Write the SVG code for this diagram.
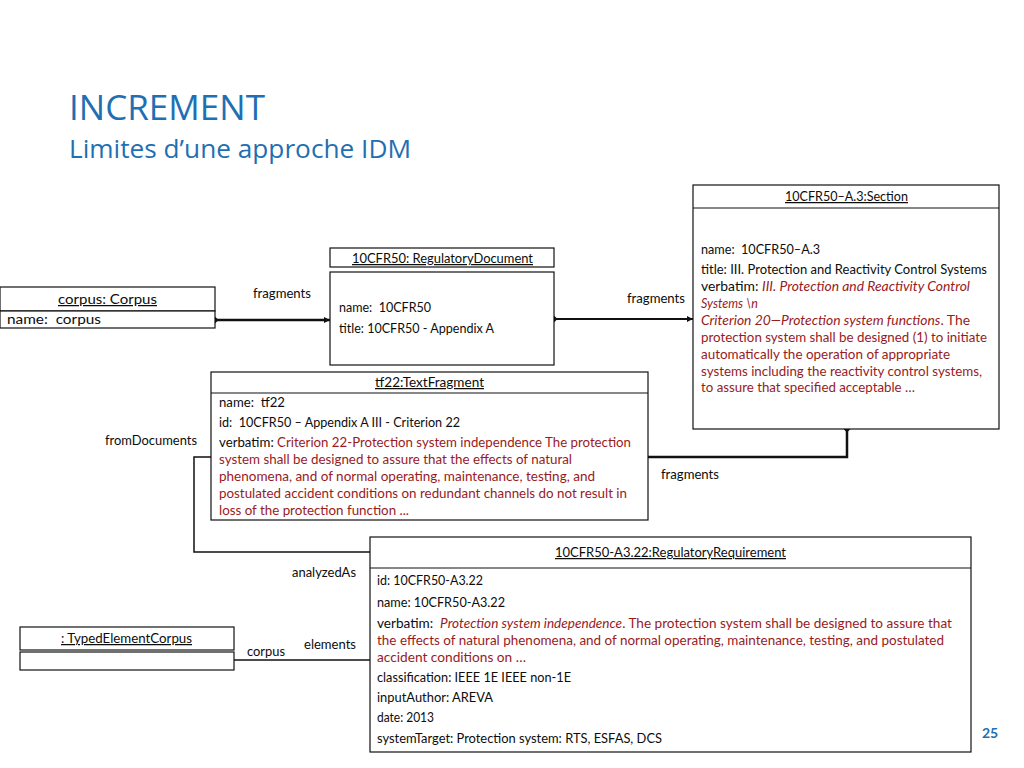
<svg xmlns="http://www.w3.org/2000/svg" width="1024" height="768" viewBox="0 0 1024 768">
<style>
.t{font-family:Lato,"Open Sans","Liberation Sans",sans-serif;font-size:12.5px;fill:#0d0d0d;white-space:pre}
.h{text-decoration:underline}
.r{fill:#981b1e}
.i{font-style:italic}
.box{fill:#fff;stroke:#111;stroke-width:1.2}
.c{fill:none;stroke:#111}
.title{font-family:"Open Sans",Lato,"Liberation Sans",sans-serif;fill:#1f6fb2}
</style>
<defs>
<marker id="dia" viewBox="0 0 10 10" refX="5" refY="5" markerWidth="7" markerHeight="7" markerUnits="userSpaceOnUse" orient="auto"><path d="M0,5 L5,0 L10,5 L5,10 Z" fill="#111"/></marker>
<marker id="arr" viewBox="0 0 10 10" refX="10" refY="5" markerWidth="6" markerHeight="6" markerUnits="userSpaceOnUse" orient="auto"><path d="M0,0 L10,5 L0,10 Z" fill="#111"/></marker>
</defs>
<rect width="1024" height="768" fill="#fff"/>
<text class="title" x="69" y="120" font-size="34" textLength="196" lengthAdjust="spacingAndGlyphs">INCREMENT</text>
<text class="title" x="69" y="158" font-size="25" textLength="342" lengthAdjust="spacingAndGlyphs">Limites d’une approche IDM</text>

<g id="connectors">
<path class="c" d="M215,320 H330" stroke-width="2.5" marker-start="url(#dia)" marker-end="url(#arr)"/>
<path class="c" d="M554,319 H693" stroke-width="2.2" marker-start="url(#dia)" marker-end="url(#arr)"/>
<path class="c" d="M847,429 V457 H648" stroke-width="2.5" marker-start="url(#dia)"/>
<path class="c" d="M211,457 H194 V552 H370" stroke-width="1.5"/>
<path class="c" d="M234,660 H370" stroke-width="1.5"/>
<text class="t" x="253" y="298" textLength="58" lengthAdjust="spacingAndGlyphs">fragments</text>
<text class="t" x="627" y="303" textLength="58" lengthAdjust="spacingAndGlyphs">fragments</text>
<text class="t" x="661" y="479" textLength="58" lengthAdjust="spacingAndGlyphs">fragments</text>
<text class="t" x="105" y="445" textLength="92" lengthAdjust="spacingAndGlyphs">fromDocuments</text>
<text class="t" x="292" y="577" textLength="64" lengthAdjust="spacingAndGlyphs">analyzedAs</text>
<text class="t" x="247" y="656" textLength="38" lengthAdjust="spacingAndGlyphs">corpus</text>
<text class="t" x="304" y="649" textLength="52" lengthAdjust="spacingAndGlyphs">elements</text>
</g>

<g id="corpus">
<rect class="box" x="0" y="287" width="215" height="24"/>
<rect class="box" x="0" y="311" width="215" height="17"/>
<text class="t h" x="58" y="304" textLength="99" lengthAdjust="spacingAndGlyphs">corpus: Corpus</text>
<text class="t" x="7" y="324" textLength="94" lengthAdjust="spacingAndGlyphs" xml:space="preserve">name:  corpus</text>
</g>

<g id="regdoc">
<rect class="box" x="330" y="248" width="224" height="19"/>
<rect class="box" x="330" y="272" width="224" height="93"/>
<text class="t h" x="352" y="263" textLength="181" lengthAdjust="spacingAndGlyphs">10CFR50: RegulatoryDocument</text>
<text class="t" x="339" y="312" textLength="92" lengthAdjust="spacingAndGlyphs" xml:space="preserve">name:  10CFR50</text>
<text class="t" x="339" y="333" textLength="155" lengthAdjust="spacingAndGlyphs">title: 10CFR50 - Appendix A</text>
</g>

<g id="section">
<rect class="box" x="693" y="185" width="306" height="244"/>
<line class="c" x1="693" y1="208" x2="999" y2="208" stroke-width="1.2"/>
<text class="t h" x="785" y="201" textLength="123" lengthAdjust="spacingAndGlyphs">10CFR50–A.3:Section</text>
<text class="t" x="701" y="254" textLength="119" lengthAdjust="spacingAndGlyphs" xml:space="preserve">name:  10CFR50–A.3</text>
<text class="t" x="701" y="274" textLength="286" lengthAdjust="spacingAndGlyphs">title: III. Protection and Reactivity Control Systems</text>
<text class="t" x="701" y="291" textLength="269" lengthAdjust="spacingAndGlyphs">verbatim: <tspan class="r i">III. Protection and Reactivity Control</tspan></text>
<text class="t r i" x="701" y="308">Systems \n</text>
<text class="t r" x="701" y="325" textLength="269" lengthAdjust="spacingAndGlyphs"><tspan class="i">Criterion 20—Protection system functions</tspan>. The</text>
<text class="t r" x="701" y="342" textLength="286" lengthAdjust="spacingAndGlyphs">protection system shall be designed (1) to initiate</text>
<text class="t r" x="701" y="359" textLength="249" lengthAdjust="spacingAndGlyphs">automatically the operation of appropriate</text>
<text class="t r" x="701" y="376" textLength="281" lengthAdjust="spacingAndGlyphs">systems including the reactivity control systems,</text>
<text class="t r" x="701" y="392" textLength="214" lengthAdjust="spacingAndGlyphs">to assure that specified acceptable …</text>
</g>

<g id="tf22">
<rect class="box" x="211" y="372" width="437" height="148"/>
<line class="c" x1="211" y1="393" x2="648" y2="393" stroke-width="1.2"/>
<text class="t h" x="375" y="387" textLength="109" lengthAdjust="spacingAndGlyphs">tf22:TextFragment</text>
<text class="t" x="219" y="407" textLength="66" lengthAdjust="spacingAndGlyphs" xml:space="preserve">name:  tf22</text>
<text class="t" x="219" y="427" textLength="241" lengthAdjust="spacingAndGlyphs" xml:space="preserve">id:  10CFR50 – Appendix A III - Criterion 22</text>
<text class="t" x="219" y="447" textLength="412" lengthAdjust="spacingAndGlyphs">verbatim: <tspan class="r">Criterion 22-Protection system independence The protection</tspan></text>
<text class="t r" x="219" y="464" textLength="353" lengthAdjust="spacingAndGlyphs">system shall be designed to assure that the effects of natural</text>
<text class="t r" x="219" y="481" textLength="376" lengthAdjust="spacingAndGlyphs">phenomena, and of normal operating, maintenance, testing, and</text>
<text class="t r" x="219" y="498" textLength="408" lengthAdjust="spacingAndGlyphs">postulated accident conditions on redundant channels do not result in</text>
<text class="t r" x="219" y="515" textLength="190" lengthAdjust="spacingAndGlyphs">loss of the protection function ...</text>
</g>

<g id="typedelementcorpus">
<rect class="box" x="20" y="627" width="214" height="23"/>
<rect class="box" x="20" y="652" width="214" height="18"/>
<text class="t h" x="61" y="643" textLength="131" lengthAdjust="spacingAndGlyphs">: TypedElementCorpus</text>
</g>

<g id="requirement">
<rect class="box" x="370" y="537" width="601" height="215"/>
<line class="c" x1="370" y1="568" x2="971" y2="568" stroke-width="1.2"/>
<text class="t h" x="555" y="557" textLength="231" lengthAdjust="spacingAndGlyphs">10CFR50-A3.22:RegulatoryRequirement</text>
<text class="t" x="377" y="585" textLength="106" lengthAdjust="spacingAndGlyphs">id: 10CFR50-A3.22</text>
<text class="t" x="377" y="607" textLength="128" lengthAdjust="spacingAndGlyphs">name: 10CFR50-A3.22</text>
<text class="t" x="377" y="628" textLength="575" lengthAdjust="spacingAndGlyphs" xml:space="preserve">verbatim:  <tspan class="r i">Protection system independence</tspan><tspan class="r">. The protection system shall be designed to assure that</tspan></text>
<text class="t r" x="377" y="645" textLength="567" lengthAdjust="spacingAndGlyphs">the effects of natural phenomena, and of normal operating, maintenance, testing, and postulated</text>
<text class="t r" x="377" y="662" textLength="149" lengthAdjust="spacingAndGlyphs">accident conditions on …</text>
<text class="t" x="377" y="682" textLength="194" lengthAdjust="spacingAndGlyphs">classification: IEEE 1E IEEE non-1E</text>
<text class="t" x="377" y="702" textLength="116" lengthAdjust="spacingAndGlyphs">inputAuthor: AREVA</text>
<text class="t" x="377" y="722" textLength="57" lengthAdjust="spacingAndGlyphs">date: 2013</text>
<text class="t" x="377" y="743" textLength="285" lengthAdjust="spacingAndGlyphs">systemTarget: Protection system: RTS, ESFAS, DCS</text>
</g>

<text x="982" y="738" font-family="Lato,'Open Sans',sans-serif" font-size="14" font-weight="bold" fill="#1f6fb2">25</text>
</svg>
